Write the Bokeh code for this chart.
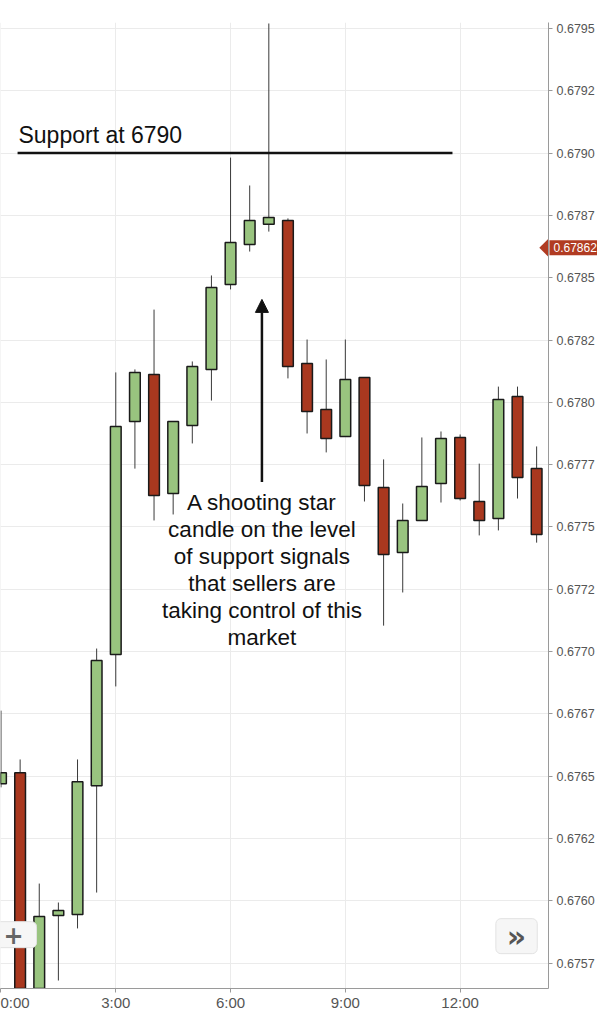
import math
from bokeh.plotting import figure
from bokeh.models import (Range1d, FixedTicker, CustomJSTickFormatter, Label,
                          Arrow, NormalHead, ColumnDataSource)
from bokeh.core.properties import value
from bokeh.embed import file_html
from bokeh.resources import INLINE

# ---------------- data ----------------
times = ["0:00", "0:30", "1:00", "1:30", "2:00", "2:30", "3:00", "3:30", "4:00", "4:30",
         "5:00", "5:30", "6:00", "6:30", "7:00", "7:30", "8:00", "8:30", "9:00", "9:30",
         "10:00", "10:30", "11:00", "11:30", "12:00", "12:30", "13:00", "13:30", "14:00"]
opens = [0.676470, 0.676514, 0.675600, 0.675941, 0.675945, 0.676462, 0.676988, 0.677923,
         0.678112, 0.677634, 0.677907, 0.678132, 0.678473, 0.678633, 0.678714, 0.678730,
         0.678156, 0.677971, 0.677863, 0.678100, 0.677658, 0.677397, 0.677526, 0.677674,
         0.677859, 0.677602, 0.677534, 0.678023, 0.677734]
highs = [0.676763, 0.676567, 0.676069, 0.675993, 0.676567, 0.677012, 0.678120, 0.678132,
         0.678372, 0.677925, 0.678164, 0.678509, 0.678982, 0.678870, 0.679520, 0.678738,
         0.678252, 0.678172, 0.678252, 0.678100, 0.677771, 0.677594, 0.677859, 0.677883,
         0.677871, 0.677754, 0.678063, 0.678063, 0.677823]
lows = [0.676455, 0.675550, 0.675560, 0.675680, 0.675889, 0.676033, 0.676860, 0.677734,
        0.677526, 0.677550, 0.677835, 0.678007, 0.678453, 0.678605, 0.678685, 0.678096,
        0.677875, 0.677799, 0.677863, 0.677602, 0.677104, 0.677237, 0.677526, 0.677598,
        0.677606, 0.677466, 0.677486, 0.677614, 0.677437]
closes = [0.676514, 0.675580, 0.675937, 0.675961, 0.676478, 0.676964, 0.677903, 0.678120,
          0.677626, 0.677923, 0.678144, 0.678461, 0.678641, 0.678730, 0.678742, 0.678144,
          0.677963, 0.677855, 0.678092, 0.677666, 0.677389, 0.677526, 0.677662, 0.677855,
          0.677614, 0.677526, 0.678011, 0.677698, 0.677470]

x_tick_hours = [0, 3, 6, 9, 12]
y_ticks = [0.67575, 0.67600, 0.67625, 0.67650, 0.67675, 0.67700, 0.67725, 0.67750,
           0.67775, 0.67800, 0.67825, 0.67850, 0.67875, 0.67900, 0.67925, 0.67950]

support_level = 0.6790
support_label = "Support at 6790"
support_from, support_to = "0:26", "11:48"
last_price = 0.67862
note_lines = ["A shooting star", "candle on the level", "of support signals",
              "that sellers are", "taking control of this", "market"]

# ---------------- helpers ----------------
def to_hours(t):
    h, m = t.split(":")
    return int(h) + int(m) / 60.0

hours = [to_hours(t) for t in times]
GREEN = "#99c47f"
RED = "#a9381f"
TAG = "#b13b22"
colors = [GREEN if c >= o else RED for o, c in zip(opens, closes)]
src = ColumnDataSource(dict(
    x=hours, high=highs, low=lows,
    top=[max(o, c) for o, c in zip(opens, closes)],
    bottom=[min(o, c) for o, c in zip(opens, closes)],
    color=colors))

p = figure(width=597, height=1024,
           x_range=Range1d(-0.013, 14.31), y_range=Range1d(0.675648, 0.679524),
           y_axis_location="right", output_backend="svg", toolbar_location=None,
           min_border_left=0, min_border_top=22, min_border_right=48, min_border_bottom=36)
p.outline_line_color = None
p.background_fill_color = "white"
p.border_fill_color = "white"

# axes
p.xaxis.ticker = FixedTicker(ticks=x_tick_hours)
p.xaxis.formatter = CustomJSTickFormatter(code="return Math.round(tick) + ':00';")
p.yaxis.ticker = FixedTicker(ticks=y_ticks)
p.yaxis.formatter = CustomJSTickFormatter(
    code="return (Math.floor(tick*10000 + 1e-6)/10000).toFixed(4);")
for ax in (p.xaxis[0], p.yaxis[0]):
    ax.axis_line_color = "#9a9a9a"
    ax.major_tick_line_color = "#9a9a9a"
    ax.minor_tick_line_color = None
    ax.major_tick_in = 0
    ax.major_tick_out = 4
    ax.major_label_text_color = "#555555"
    ax.major_label_text_font = "Liberation Sans"
p.xaxis.major_label_text_font_size = "15px"
p.xaxis.major_label_standoff = 1
p.yaxis.major_label_text_font_size = "12.5px"
p.yaxis.major_label_standoff = 4

p.xgrid.grid_line_color = "#ebebeb"
p.ygrid.grid_line_color = "#ebebeb"

# candles
p.segment(x0="x", y0="low", x1="x", y1="high", source=src, line_color="#3a3a3a", line_width=1)
p.vbar(x="x", width=0.28, top="top", bottom="bottom", source=src,
       fill_color="color", line_color="#1a1a1a", line_width=1.5)

# support line + label
p.line(x=[to_hours(support_from), to_hours(support_to)], y=[support_level, support_level],
       line_color="#111111", line_width=2.5)
p.text(x=[0.457], y=[0.679071], text=[support_label], text_font=value("Liberation Sans"),
       text_font_size="23px", text_color="#111111", text_align="left",
       text_baseline="alphabetic")

# annotation text and arrow
note_x = 6.82
note_y0 = 0.6776
step = 27 / 249200.0
p.text(x=[note_x] * len(note_lines), y=[note_y0 - i * step for i in range(len(note_lines))],
       text=note_lines, text_font=value("Liberation Sans"), text_font_size="22.5px",
       text_color="#111111", text_align="center", text_baseline="alphabetic")
p.add_layout(Arrow(end=NormalHead(size=13, fill_color="#111111", line_color="#111111"),
                   x_start=note_x, y_start=0.67768, x_end=note_x, y_end=0.678413,
                   line_width=2.5, line_color="#111111"))

# last-price tag (tip inside the frame, box over the price axis)
p.scatter(x=[14.32], y=[last_price], marker="square", size=13.5, angle=math.pi / 4,
          fill_color=TAG, line_color=None)
p.add_layout(Label(x=14.335, y=last_price, text="%.5f" % last_price,
                   text_color="white", text_font="Liberation Sans", text_font_size="12px",
                   text_baseline="middle", text_align="left",
                   background_fill_color=TAG, padding=(4, 3)), "above")

# chart buttons
p.add_layout(Label(x=0.326, y=0.675864, text="+", text_color="#666666",
                   text_font="DejaVu Sans", text_font_size="24px", text_font_style="bold",
                   text_align="center", text_baseline="middle",
                   background_fill_color="#f6f6f6", border_line_color="#e2e2e2",
                   padding=(13, 4), border_radius=5))
p.add_layout(Label(x=13.475, y=0.675858, text="»", text_color="#555555",
                   text_font="DejaVu Sans", text_font_size="30px", text_font_style="bold",
                   text_align="center", text_baseline="middle",
                   background_fill_color="#f6f6f6", border_line_color="#e2e2e2",
                   padding=(11, 0), border_radius=5))

open("out.html", "w").write(file_html(p, INLINE))
